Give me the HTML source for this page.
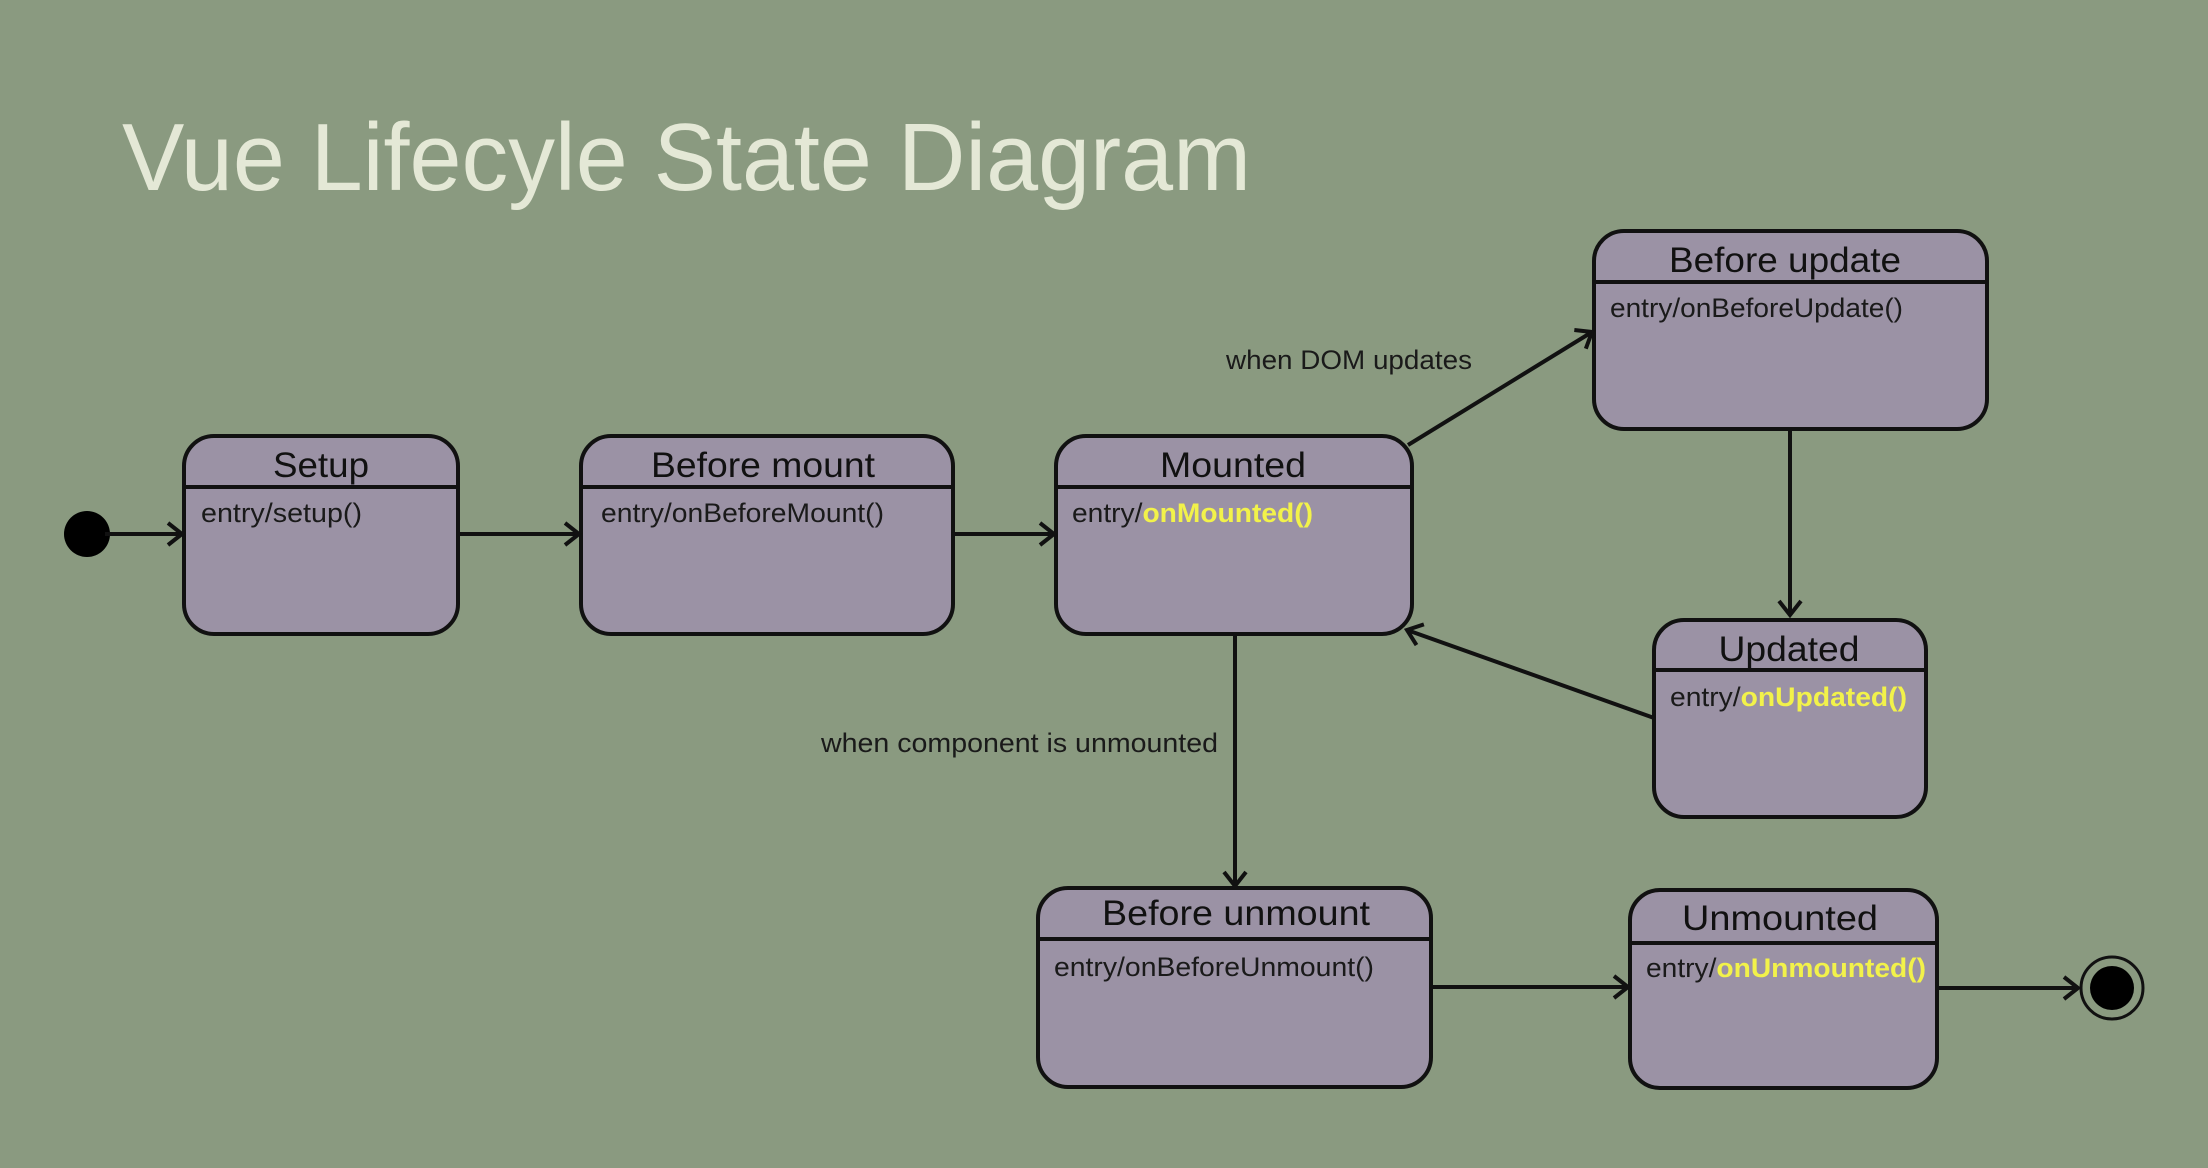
<!DOCTYPE html>
<html><head><meta charset="utf-8"><style>
html,body{margin:0;padding:0;background:#8a9a80;}
svg{display:block}
text{font-family:"Liberation Sans",sans-serif;}
</style></head><body>
<svg width="2208" height="1168" viewBox="0 0 2208 1168" xmlns="http://www.w3.org/2000/svg">
<defs>
<marker id="a" markerWidth="22" markerHeight="26" refX="18" refY="13" orient="auto" markerUnits="userSpaceOnUse">
<path d="M4,2 L18,13 L4,24" fill="none" stroke="#111" stroke-width="4"/>
</marker>
</defs>
<rect width="2208" height="1168" fill="#8a9a80"/>
<text x="122" y="190" font-size="96" fill="#e4e8d6" textLength="1129" lengthAdjust="spacingAndGlyphs">Vue Lifecyle State Diagram</text>

<g stroke="#111" stroke-width="4" fill="#9b92a5">
<rect x="184" y="436" width="274" height="198" rx="30"/>
<rect x="581" y="436" width="372" height="198" rx="30"/>
<rect x="1056" y="436" width="356" height="198" rx="30"/>
<rect x="1594" y="231" width="393" height="198" rx="30"/>
<rect x="1654" y="620" width="272" height="197" rx="30"/>
<rect x="1038" y="888" width="393" height="199" rx="30"/>
<rect x="1630" y="890" width="307" height="198" rx="30"/>
<line x1="184" y1="487" x2="458" y2="487"/>
<line x1="581" y1="487" x2="953" y2="487"/>
<line x1="1056" y1="487" x2="1412" y2="487"/>
<line x1="1594" y1="282" x2="1987" y2="282"/>
<line x1="1654" y1="670" x2="1926" y2="670"/>
<line x1="1038" y1="939" x2="1431" y2="939"/>
<line x1="1630" y1="943" x2="1937" y2="943"/>
</g>

<g font-size="35" fill="#111" text-anchor="middle" lengthAdjust="spacingAndGlyphs">
<text x="321" y="477" textLength="96" lengthAdjust="spacingAndGlyphs">Setup</text>
<text x="763" y="477" textLength="224" lengthAdjust="spacingAndGlyphs">Before mount</text>
<text x="1233" y="477" textLength="146" lengthAdjust="spacingAndGlyphs">Mounted</text>
<text x="1785" y="272" textLength="232" lengthAdjust="spacingAndGlyphs">Before update</text>
<text x="1789" y="661" textLength="141" lengthAdjust="spacingAndGlyphs">Updated</text>
<text x="1236" y="925" textLength="268" lengthAdjust="spacingAndGlyphs">Before unmount</text>
<text x="1780" y="930" textLength="196" lengthAdjust="spacingAndGlyphs">Unmounted</text>
</g>
<g font-size="27" fill="#1a1a1a">
<text x="201" y="522" textLength="161" lengthAdjust="spacingAndGlyphs">entry/setup()</text>
<text x="601" y="522" textLength="283" lengthAdjust="spacingAndGlyphs">entry/onBeforeMount()</text>
<text x="1072" y="522" textLength="241" lengthAdjust="spacingAndGlyphs">entry/<tspan fill="#f2f24a" font-weight="bold">onMounted()</tspan></text>
<text x="1610" y="317" textLength="293" lengthAdjust="spacingAndGlyphs">entry/onBeforeUpdate()</text>
<text x="1670" y="706" textLength="237" lengthAdjust="spacingAndGlyphs">entry/<tspan fill="#f2f24a" font-weight="bold">onUpdated()</tspan></text>
<text x="1054" y="976" textLength="320" lengthAdjust="spacingAndGlyphs">entry/onBeforeUnmount()</text>
<text x="1646" y="977" textLength="280" lengthAdjust="spacingAndGlyphs">entry/<tspan fill="#f2f24a" font-weight="bold">onUnmounted()</tspan></text>
<text x="1226" y="369" textLength="246" lengthAdjust="spacingAndGlyphs">when DOM updates</text>
<text x="821" y="752" textLength="397" lengthAdjust="spacingAndGlyphs">when component is unmounted</text>
</g>

<circle cx="87" cy="534" r="23" fill="#000"/>
<circle cx="2112" cy="988" r="31" fill="none" stroke="#111" stroke-width="3"/>
<circle cx="2112" cy="988" r="22" fill="#000"/>

<g stroke="#111" stroke-width="4" fill="none" marker-end="url(#a)">
<line x1="105" y1="534" x2="182" y2="534"/>
<line x1="458" y1="534" x2="579" y2="534"/>
<line x1="953" y1="534" x2="1054" y2="534"/>
<line x1="1408" y1="445" x2="1592" y2="332"/>
<line x1="1790" y1="429" x2="1790" y2="615"/>
<line x1="1654" y1="718" x2="1407" y2="630"/>
<line x1="1235" y1="634" x2="1235" y2="886"/>
<line x1="1431" y1="987" x2="1628" y2="987"/>
<line x1="1937" y1="988" x2="2078" y2="988"/>
</g>
</svg>
</body></html>
